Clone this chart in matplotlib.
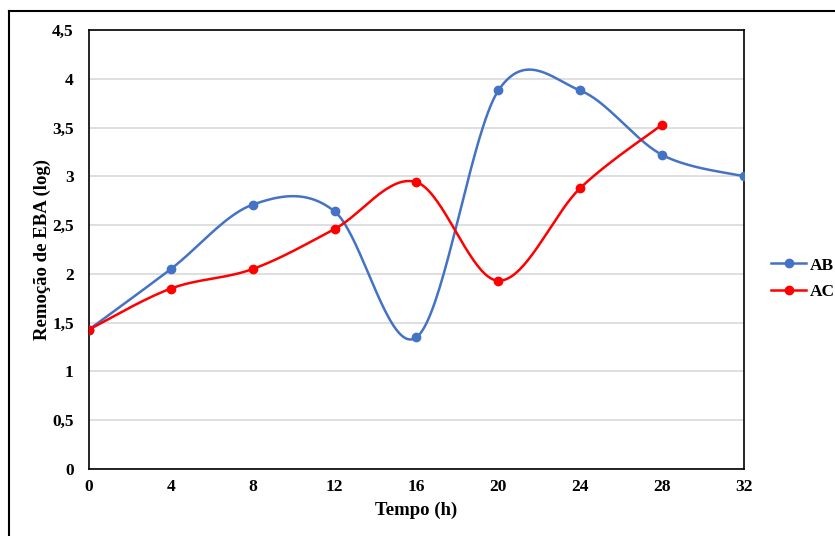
import numpy as np
import matplotlib.pyplot as plt
from matplotlib.lines import Line2D

# dados
tempo_ab = [0, 4, 8, 12, 16, 20, 24, 28, 32]
remocao_ab = [1.43, 2.05, 2.71, 2.64, 1.35, 3.88, 3.88, 3.22, 3.00]
tempo_ac = [0, 4, 8, 12, 16, 20, 24, 28]
remocao_ac = [1.43, 1.85, 2.05, 2.46, 2.94, 1.93, 2.88, 3.53]

y_ticks = [0, 0.5, 1, 1.5, 2, 2.5, 3, 3.5, 4, 4.5]
y_labels = ['0', '0,5', '1', '1,5', '2', '2,5', '3', '3,5', '4', '4,5']
x_ticks = [0, 4, 8, 12, 16, 20, 24, 28, 32]


def suavizar(x, y, n=40):
    # curva suavizada tipo Excel (Bezier com controle de Catmull-Rom)
    p = np.column_stack([x, y]).astype(float)
    out = [p[0]]
    for i in range(len(p) - 1):
        p0 = p[i - 1] if i > 0 else p[i]
        p1 = p[i]
        p2 = p[i + 1]
        p3 = p[i + 2] if i + 2 < len(p) else p[i + 1]
        c1 = p1 + (p2 - p0) / 6
        c2 = p2 - (p3 - p1) / 6
        t = np.linspace(0, 1, n)[1:, None]
        seg = ((1 - t) ** 3) * p1 + 3 * ((1 - t) ** 2) * t * c1 + 3 * (1 - t) * t ** 2 * c2 + t ** 3 * p2
        out.extend(seg)
    out = np.array(out)
    return out[:, 0], out[:, 1]


plt.rcParams['font.family'] = 'Liberation Serif'
plt.rcParams['font.weight'] = 'bold'

fig = plt.figure(figsize=(8.35, 5.36), dpi=100)
ax = fig.add_axes([0.1066, 0.125, 0.7844, 0.819])

azul = '#4472C4'
vermelho = '#FF0000'

xs, ys = suavizar(tempo_ab, remocao_ab)
ax.plot(xs, ys, color=azul, lw=1.8, zorder=3)
ax.plot(tempo_ab, remocao_ab, 'o', color=azul, ms=6, zorder=4)
xs, ys = suavizar(tempo_ac, remocao_ac)
ax.plot(xs, ys, color=vermelho, lw=1.8, zorder=3)
ax.plot(tempo_ac, remocao_ac, 'o', color=vermelho, ms=6, zorder=4)

ax.set_xlim(0, 32)
ax.set_ylim(0, 4.5)
ax.set_xticks(x_ticks)
ax.set_yticks(y_ticks)
ax.set_yticklabels(y_labels)
ax.tick_params(length=0, labelsize=12.5)
ax.tick_params(axis='y', pad=11)
ax.tick_params(axis='x', pad=7)
ax.grid(axis='y', color='#d9d9d9', lw=1.2)
ax.set_axisbelow(True)
for s in ax.spines.values():
    s.set_color('black')
    s.set_linewidth(1.2)

ax.set_xlabel('Tempo (h)', fontsize=13.5, fontweight='bold', labelpad=5)
ax.set_ylabel('Remoção de EBA (log)', fontsize=13.5, fontweight='bold')
ax.yaxis.set_label_coords(-0.058, 0.5)

handles = [Line2D([], [], color=azul, lw=1.8, marker='o', ms=6),
           Line2D([], [], color=vermelho, lw=1.8, marker='o', ms=6)]
fig.legend(handles, ['AB', 'AC'], loc='center left', bbox_to_anchor=(0.905, 0.48),
           frameon=False, fontsize=12.5, handlelength=2.0, handletextpad=0.2,
           labelspacing=0.6)

# moldura externa (so esquerda e topo visiveis)
fig.add_artist(Line2D([0.0108, 0.0108], [0, 0.979], color='black', lw=1.5, transform=fig.transFigure))
fig.add_artist(Line2D([0.0108, 1], [0.979, 0.979], color='black', lw=1.5, transform=fig.transFigure))

fig.savefig('out.png', dpi=100)
